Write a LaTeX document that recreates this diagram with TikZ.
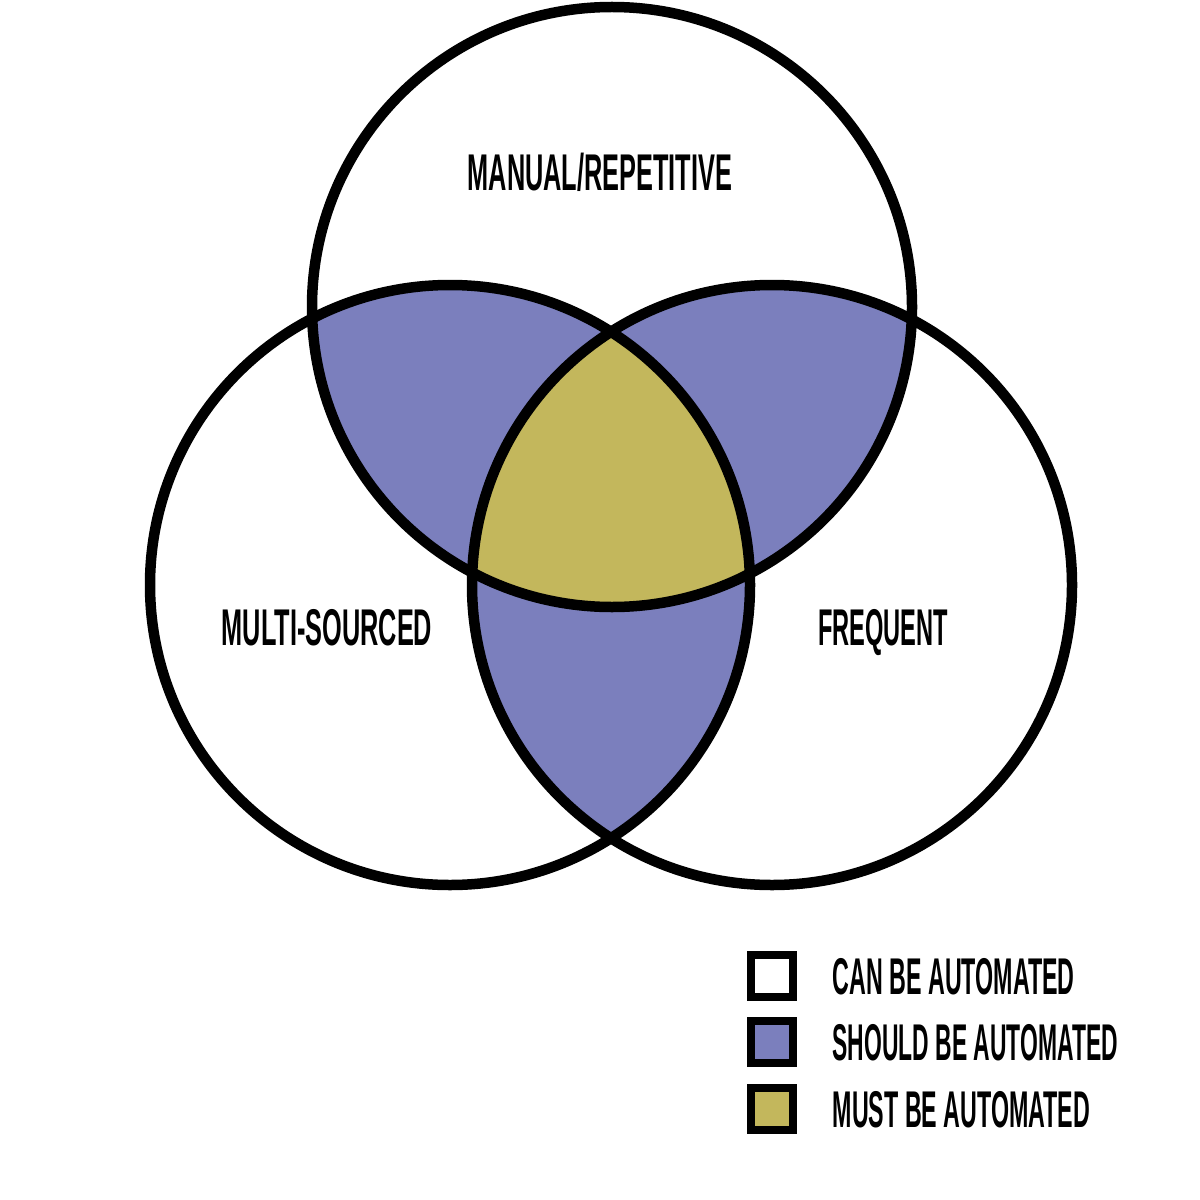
\documentclass[tikz,border=0pt]{standalone}
\usepackage{fontspec}
\setmainfont{Liberation Sans}
\definecolor{vblue}{HTML}{7B7FBD}
\definecolor{volive}{HTML}{C3B75C}
\newcommand{\cond}[2][0.45]{\scalebox{#1}[1]{\bfseries #2}}
\begin{document}
\begin{tikzpicture}[x=0.1mm,y=-0.1mm,
  ring/.style={draw=black,line width=1.05mm},
  lbl/.style={inner sep=0pt,font=\fontsize{14.7}{16}\selectfont},
  key/.style={draw=black,line width=0.85mm,minimum size=4.2mm,inner sep=0pt}]
\useasboundingbox (0,0) rectangle (1200,1200);
\fill[white] (0,0) rectangle (1200,1200);
\coordinate (T) at (612,307);
\coordinate (L) at (450,585);
\coordinate (R) at (772,585);
% pairwise intersections
\begin{scope}
  \clip (T) circle (300);
  \fill[vblue] (L) circle (300);
  \fill[vblue] (R) circle (300);
\end{scope}
\begin{scope}
  \clip (L) circle (300);
  \fill[vblue] (R) circle (300);
\end{scope}
\begin{scope}
  \clip (T) circle (300);
  \clip (L) circle (300);
  \fill[volive] (R) circle (300);
\end{scope}
\draw[ring] (T) circle (300);
\draw[ring] (L) circle (300);
\draw[ring] (R) circle (300);
% labels
\node[lbl,anchor=base] (tl) at (600,190) {\cond[0.49]{MANUAL/REPETITIVE}};
\node[lbl,anchor=base] (ll) at (327,645) {\cond[0.49]{MULTI-SOURCED}};
\node[lbl,anchor=base] (rl) at (883,645) {\cond[0.457]{FREQUENT}};
% legend
\node[key,fill=white] (k1) at (772,976) {};
\node[key,fill=vblue] (k2) at (772,1042) {};
\node[key,fill=volive] (k3) at (772,1109) {};
\node[lbl,anchor=base west] (t1) at (832,994) {\cond{CAN BE AUTOMATED}};
\node[lbl,anchor=base west] (t2) at (832,1060) {\cond[0.443]{SHOULD BE AUTOMATED}};
\node[lbl,anchor=base west] (t3) at (832,1127) {\cond{MUST BE AUTOMATED}};
\end{tikzpicture}
\end{document}
